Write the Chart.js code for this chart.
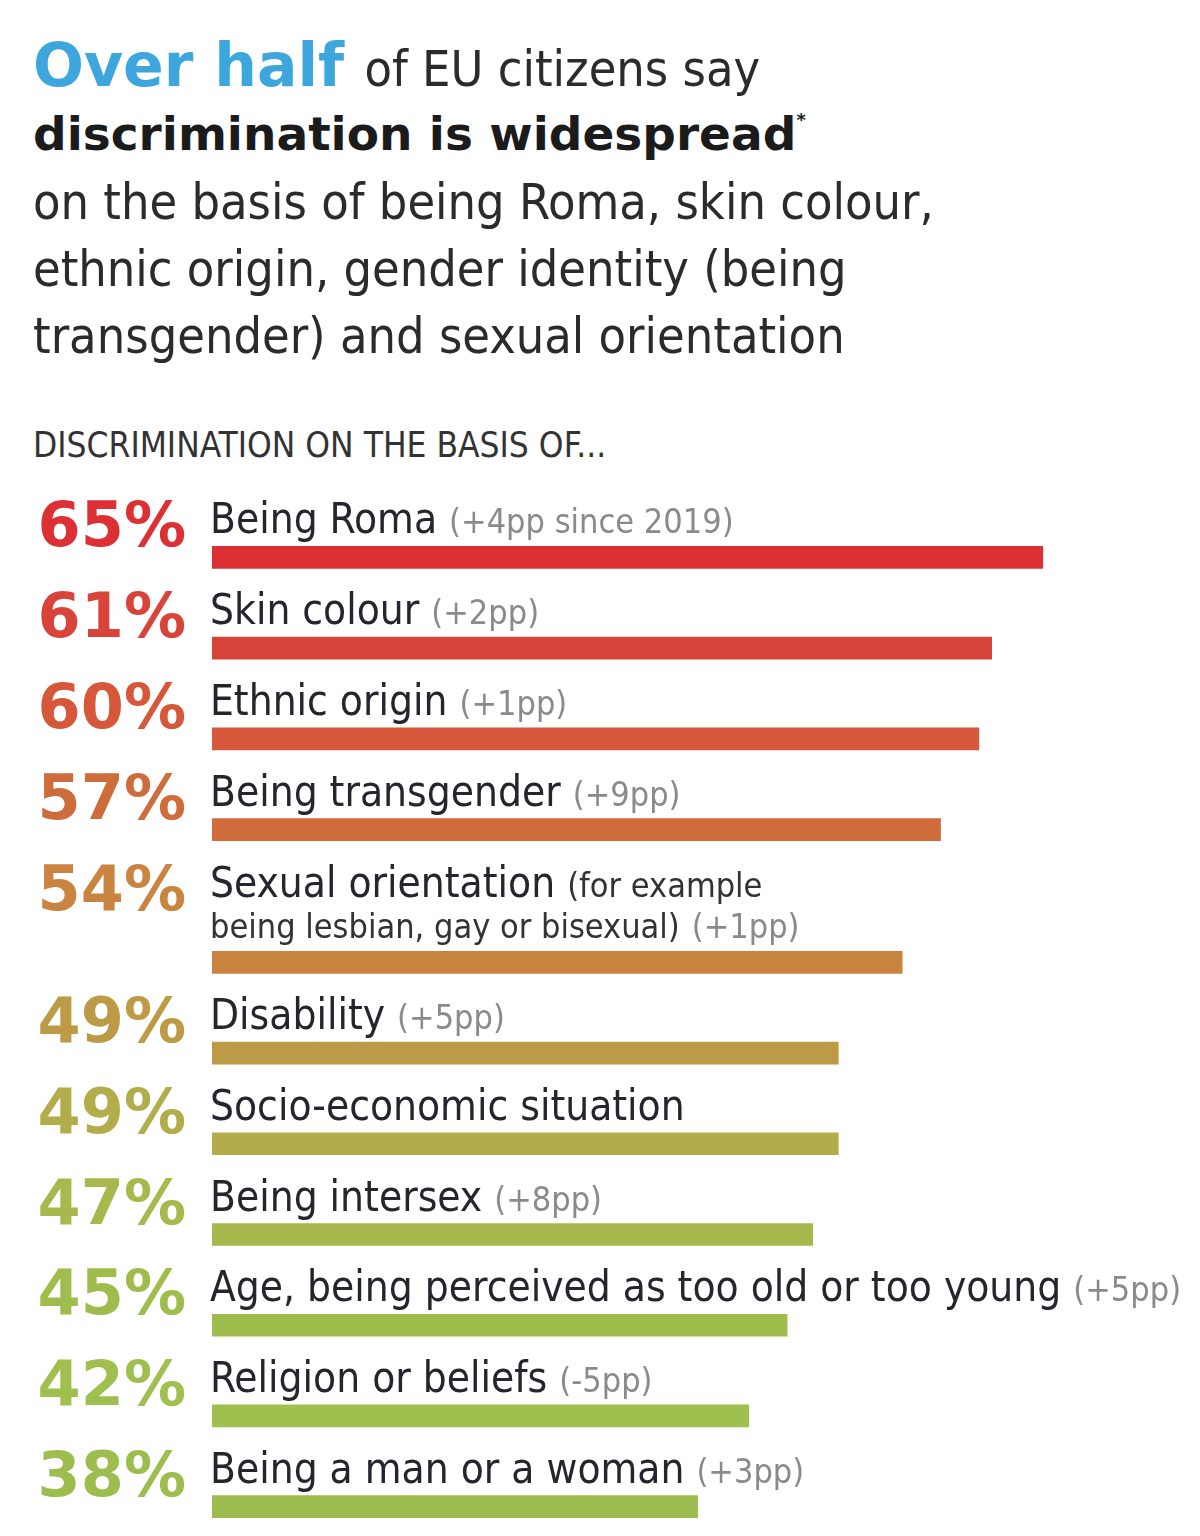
<!DOCTYPE html>
<html>
<head>
<meta charset="utf-8">
<script src="https://cdn.jsdelivr.net/npm/chart.js@4.4.1/dist/chart.umd.min.js"></script>
<style>
  html, body { margin: 0; padding: 0; background: #fff; overflow: hidden; }
  body { width: 1200px; height: 1536px; position: relative; }
  .line { position: absolute; left: 33px; white-space: nowrap; line-height: 67px;
    font-family: 'DejaVu Sans Condensed', 'DejaVu Sans', sans-serif; font-stretch: condensed;
    font-size: 50px; color: #2b2b2b; }
  .big { font-family: 'DejaVu Sans', sans-serif; font-stretch: normal; font-weight: bold;
    font-size: 60px; color: #3da7dd; line-height: 40px; margin-right: 6px; }
  .bold { font-family: 'DejaVu Sans', sans-serif; font-stretch: normal; font-weight: bold;
    font-size: 47px; color: #1b1b1b; }
  .star { font-size: 18px; position: relative; top: -24px; }
  .head { position: absolute; left: 33px; top: 425px; white-space: nowrap;
    font-family: 'DejaVu Sans Condensed', 'DejaVu Sans', sans-serif; font-stretch: condensed;
    font-size: 35px; line-height: 40px; color: #333; }
  canvas { position: absolute; left: 0; }
</style>
</head>
<body>
<div class="line" style="top:36px"><span class="big">Over half</span> of EU citizens say</div>
<div class="line bold" style="top:100px">discrimination is widespread<span class="star">*</span></div>
<div class="line" style="top:169px">on the basis of being Roma, skin colour,</div>
<div class="line" style="top:236px">ethnic origin, gender identity (being</div>
<div class="line" style="top:303px">transgender) and sexual orientation</div>
<div class="head">DISCRIMINATION ON THE BASIS OF...</div>
<canvas id="top" width="1200" height="410" style="top:470px"></canvas>
<canvas id="bottom" width="1200" height="710" style="top:850px"></canvas>
<script>
const categories = [
  'Being Roma', 'Skin colour', 'Ethnic origin', 'Being transgender',
  'Sexual orientation', 'Disability', 'Socio-economic situation', 'Being intersex',
  'Age, being perceived as too old or too young', 'Religion or beliefs', 'Being a man or a woman'
];
const values = [65, 61, 60, 57, 54, 49, 49, 47, 45, 42, 38];
const changes = ['+4pp since 2019', '+2pp', '+1pp', '+9pp', '+1pp', '+5pp', '', '+8pp', '+5pp', '-5pp', '+3pp'];
const details = ['', '', '', '', '(for example\nbeing lesbian, gay or bisexual)', '', '', '', '', '', ''];

const barColors = [
  '#dd3035', '#d8433a', '#d6573a', '#cf6c3c', '#c9853f', '#bd9a45',
  '#b3ac4b', '#a9b84d', '#9fbd4d', '#9fbf4e', '#9dbe4f'
];

const COND = "'DejaVu Sans Condensed', 'DejaVu Sans', sans-serif";
const LINE_GAP = 41;

const rowLabels = {
  id: 'rowLabels',
  afterDatasetsDraw(chart, args, opts) {
    const { ctx } = chart;
    const rows = opts.rows;
    ctx.save();
    ctx.textBaseline = 'alphabetic';
    chart.getDatasetMeta(0).data.forEach((bar, j) => {
      const i = rows[j];
      const lines = details[i] ? details[i].split('\n') : [];
      const shift = Math.max(lines.length - 1, 0) * LINE_GAP;

      // big percentage on the left
      ctx.textAlign = 'right';
      ctx.font = "bold 62px 'DejaVu Sans', sans-serif";
      ctx.fillStyle = barColors[i];
      ctx.fillText(values[i] + '%', 186, bar.y - 11 - shift);

      // category text above the bar
      ctx.textAlign = 'left';
      let y = bar.y - 24 - shift;
      let x = 210;
      ctx.font = '42px ' + COND;
      ctx.fillStyle = '#25252e';
      ctx.fillText(categories[i], x, y);
      x += ctx.measureText(categories[i]).width + 12;

      ctx.font = '34px ' + COND;
      ctx.fillStyle = '#333';
      lines.forEach((ln, k) => {
        if (k > 0) { y += LINE_GAP; x = 210; }
        ctx.fillText(ln, x, y);
        x += ctx.measureText(ln).width + 12;
      });

      if (changes[i]) {
        ctx.fillStyle = '#8a8a8a';
        ctx.fillText('(' + changes[i] + ')', x, y);
      }
    });
    ctx.restore();
  }
};

function makeChart(canvas, rows, padTop, padBottom) {
  return new Chart(canvas, {
    type: 'bar',
    data: {
      labels: rows.map(i => categories[i]),
      datasets: [{
        data: rows.map(i => values[i]),
        backgroundColor: rows.map(i => barColors[i]),
        borderWidth: 0,
        barThickness: 22,
      }],
    },
    options: {
      indexAxis: 'y',
      responsive: false,
      animation: false,
      layout: { padding: { left: 212, right: 0, top: padTop, bottom: padBottom } },
      scales: {
        x: { display: false, min: 0, max: 77.3 },
        y: { display: false },
      },
      plugins: {
        legend: { display: false },
        tooltip: { enabled: false },
        rowLabels: { rows },
      },
    },
    plugins: [rowLabels],
  });
}

makeChart(document.getElementById('top'), [0, 1, 2, 3], 42, 5);
makeChart(document.getElementById('bottom'), [4, 5, 6, 7, 8, 9, 10], 67, 8);
</script>
</body>
</html>
